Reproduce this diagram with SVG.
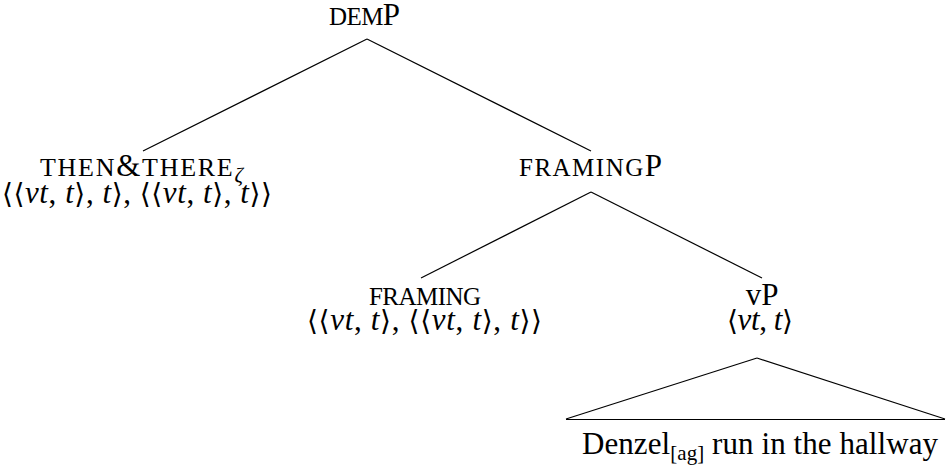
<svg xmlns="http://www.w3.org/2000/svg" width="948" height="466" viewBox="0 0 948 466">
<style>
text{font-family:"Liberation Serif","DejaVu Serif",serif;font-size:31px;fill:#000}
.sc{font-size:25px}
.sc2{font-size:26px}
.it{font-style:italic;font-family:"Liberation Serif",serif}
.ab{font-family:"DejaVu Serif","DejaVu Sans",serif;font-size:28px}
.sub{font-size:21px}
.cn line{stroke:#000;stroke-width:1.2;fill:none}
</style>
<rect width="948" height="466" fill="#fff"/>
<g class="cn" id="connectors">
<line x1="367" y1="39" x2="143" y2="151"/>
<line x1="367" y1="39" x2="591" y2="151"/>
<line x1="591" y1="192" x2="421" y2="278"/>
<line x1="591" y1="192" x2="762" y2="278"/>
<line x1="757" y1="358" x2="566" y2="419"/>
<line x1="757" y1="358" x2="945" y2="419"/>
<line x1="566" y1="419.5" x2="945" y2="419.5"/>
</g>
<g id="demP">
<text x="329" y="25" textLength="71"><tspan class="sc">DEM</tspan>P</text>
</g>
<g id="thenthere">
<text x="40" y="176" textLength="203"><tspan class="sc2">THEN</tspan>&amp;<tspan class="sc2">THERE</tspan><tspan class="it sub" dy="6">ζ</tspan></text>
<text x="2" y="203" textLength="270"><tspan class="ab">⟨⟨</tspan><tspan class="it">vt</tspan>, <tspan class="it">t</tspan><tspan class="ab">⟩</tspan>, <tspan class="it">t</tspan><tspan class="ab">⟩</tspan>, <tspan class="ab">⟨⟨</tspan><tspan class="it">vt</tspan>, <tspan class="it">t</tspan><tspan class="ab">⟩</tspan>, <tspan class="it">t</tspan><tspan class="ab">⟩⟩</tspan></text>
</g>
<g id="framingP">
<text x="519" y="176" textLength="143"><tspan class="sc">FRAMING</tspan>P</text>
</g>
<g id="framing">
<text x="369" y="305" class="sc" textLength="112">FRAMING</text>
<text x="307" y="330" textLength="235"><tspan class="ab">⟨⟨</tspan><tspan class="it">vt</tspan>, <tspan class="it">t</tspan><tspan class="ab">⟩</tspan>, <tspan class="ab">⟨⟨</tspan><tspan class="it">vt</tspan>, <tspan class="it">t</tspan><tspan class="ab">⟩</tspan>, <tspan class="it">t</tspan><tspan class="ab">⟩⟩</tspan></text>
</g>
<g id="vP">
<text x="762" y="305" font-size="33" text-anchor="middle">vP</text>
<text x="727" y="330" textLength="66"><tspan class="ab">⟨</tspan><tspan class="it">vt</tspan>, <tspan class="it">t</tspan><tspan class="ab">⟩</tspan></text>
<text x="582" y="454" textLength="356">Denzel<tspan class="sub" dy="6">[ag]</tspan><tspan dy="-6"> run in the hallway</tspan></text>
</g>
</svg>
